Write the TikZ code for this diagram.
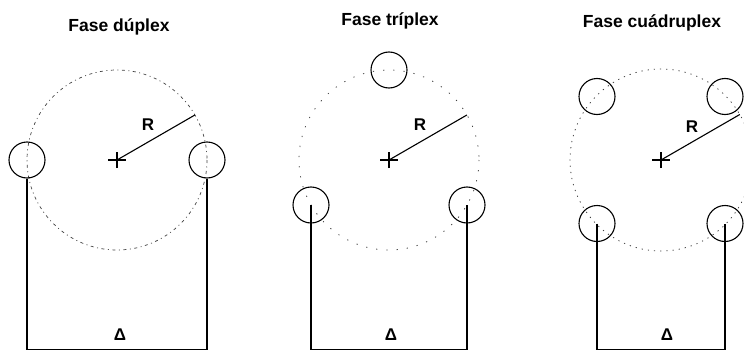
\documentclass[tikz,border=0pt]{standalone}
\usepackage{fontspec}
\setmainfont{Liberation Sans}
\begin{document}
\begin{tikzpicture}[x=1pt,y=-1pt,
  solidline/.style={line width=1.1pt,black},
  conductor/.style={circle,draw,line width=1.1pt,minimum size=36pt,inner sep=0pt},
  title/.style={font=\fontsize{17.5}{20}\selectfont\bfseries,anchor=base,inner sep=0pt},
  lbl/.style={font=\fontsize{17}{20}\selectfont\bfseries,inner sep=0pt},
  dotsA/.style={line width=0.7pt,black!75,dash pattern=on 3pt off 3.5pt on 1pt off 3.5pt},
  dotsB/.style={line width=0.8pt,black!75,dash pattern=on 1.2pt off 9pt},
  dotsC/.style={line width=0.8pt,black!75,dash pattern=on 1.2pt off 5pt}]
\useasboundingbox (0,0) rectangle (744,353);

% ---------- Fase duplex ----------
\node[title] (t1) at (119,31.5) {Fase dúplex};
\coordinate (c1) at (117,160);
\draw[dotsA] (c1) circle[radius=90];
\node[conductor] (d1) at (27,160) {};
\node[conductor] (d2) at (207,160) {};
\draw[solidline] ([xshift=-9pt]c1) -- ([xshift=9pt]c1);
\draw[solidline] ([yshift=-8pt]c1) -- ([yshift=8pt]c1);
\coordinate (r1) at (194.9,115);
\draw[solidline] (c1) -- (r1);
\node[lbl] (R1) at (148,125) {R};
\coordinate (b1) at (27,349.5);
\coordinate (b2) at (207,349.5);
\draw[solidline] (d1.south) -- (b1) -- (b2) -- (d2.south);
\node[lbl] (D1) at (120,335) {Δ};

% ---------- Fase triplex ----------
\node[title] (t2) at (390,25.7) {Fase tríplex};
\coordinate (c2) at (389,160);
\draw[dotsB] (c2) circle[radius=90];
\node[conductor] (e1) at (389,70) {};
\node[conductor] (e2) at (311,205) {};
\node[conductor] (e3) at (467,205) {};
\draw[solidline] ([xshift=-9pt]c2) -- ([xshift=9pt]c2);
\draw[solidline] ([yshift=-8pt]c2) -- ([yshift=8pt]c2);
\coordinate (r2) at (466.9,115);
\draw[solidline] (c2) -- (r2);
\node[lbl] (R2) at (420,125) {R};
\coordinate (b3) at (311,349.5);
\coordinate (b4) at (467,349.5);
\draw[solidline] (e2.center) -- (b3) -- (b4) -- (e3.center);
\node[lbl] (D2) at (391,335) {Δ};

% ---------- Fase cuadruplex ----------
\node[title] (t3) at (652,27.7) {Fase cuádruplex};
\coordinate (c3) at (661,160);
\draw[dotsC] (c3) circle[radius=91];
\node[conductor] (f1) at (597,96.5) {};
\node[conductor] (f2) at (725,96.5) {};
\node[conductor] (f3) at (597,223.5) {};
\node[conductor] (f4) at (725,223.5) {};
\draw[solidline] ([xshift=-9pt]c3) -- ([xshift=9pt]c3);
\draw[solidline] ([yshift=-8pt]c3) -- ([yshift=8pt]c3);
\coordinate (r3) at (739.8,114.5);
\draw[solidline] (c3) -- (r3);
\node[lbl] (R3) at (692,127) {R};
\coordinate (b5) at (597,349.5);
\coordinate (b6) at (725,349.5);
\draw[solidline] (f3.center) -- (b5) -- (b6) -- (f4.center);
\node[lbl] (D3) at (667,335) {Δ};
\end{tikzpicture}
\end{document}
